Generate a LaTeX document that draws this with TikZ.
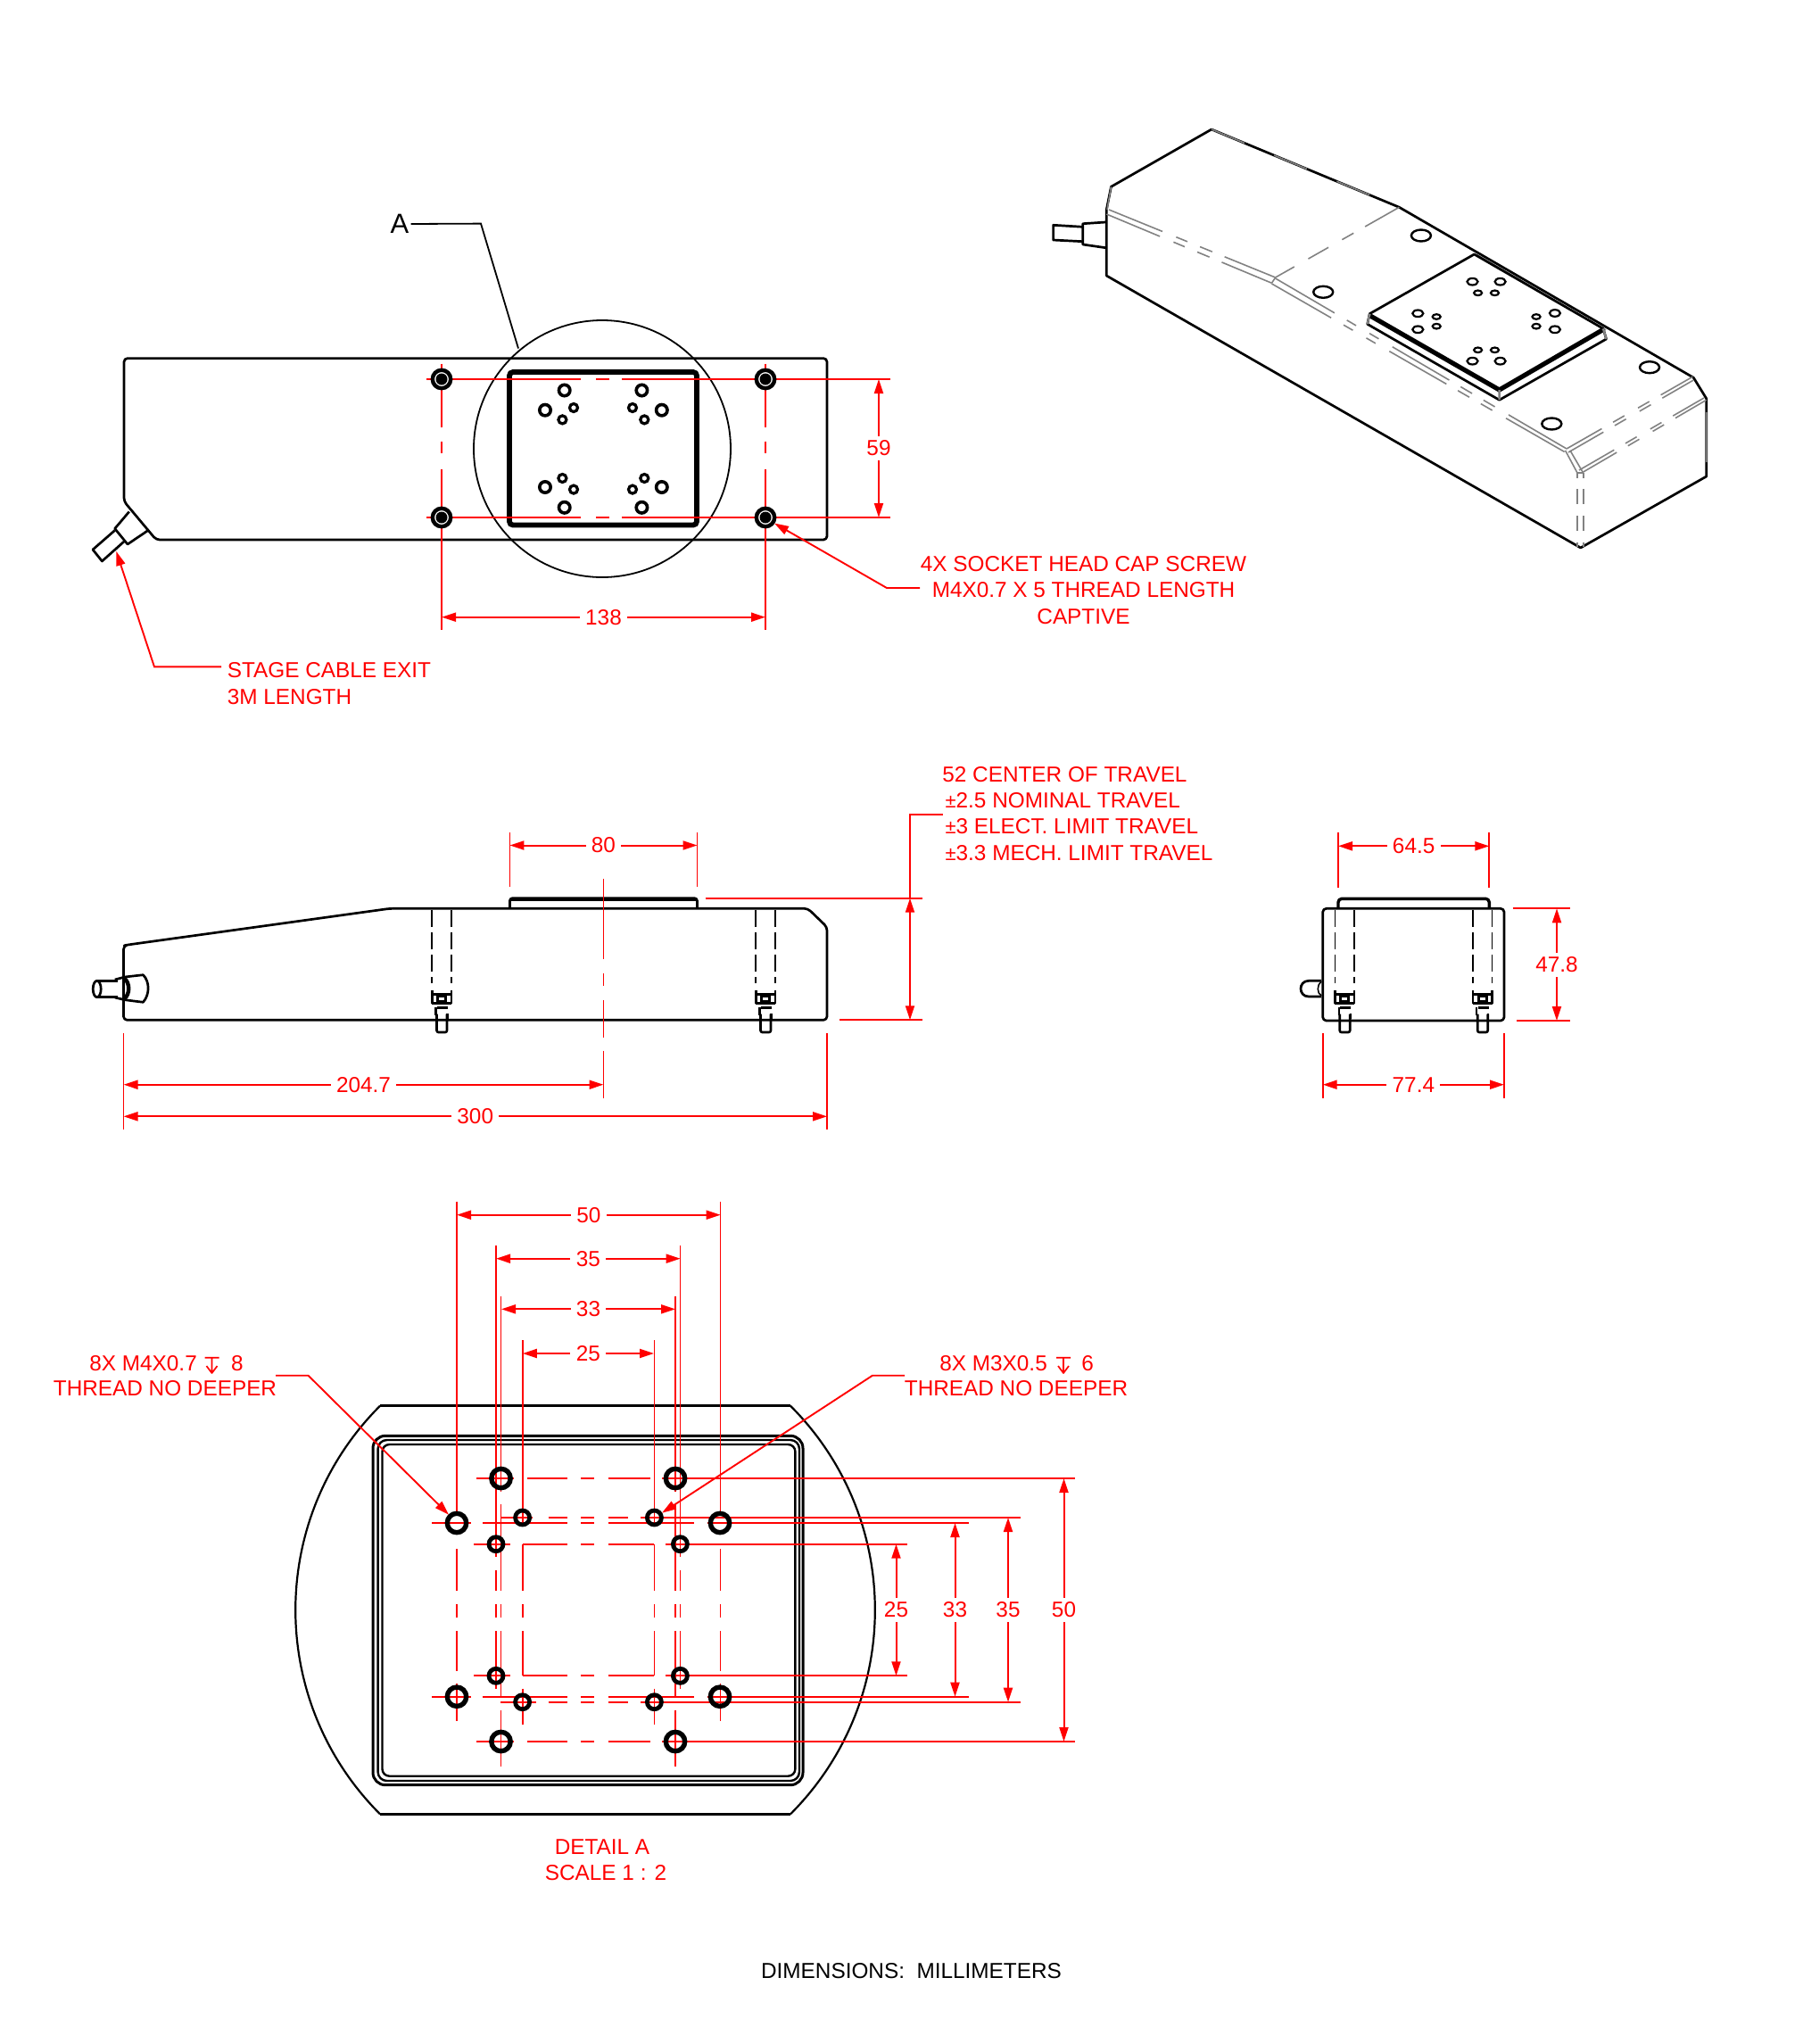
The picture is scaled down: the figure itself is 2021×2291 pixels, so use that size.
\documentclass[tikz,border=0pt]{standalone}
\usepackage{fontspec}
\setmainfont{Liberation Sans}
\usetikzlibrary{arrows.meta}
\definecolor{rd}{RGB}{255,0,0}
\definecolor{gr}{RGB}{130,130,130}
\newcommand\VSegs[2]{\foreach \a/\b in {#2}{\draw[cl] (#1,\a) -- (#1,\b);}}
\newcommand\HSegs[2]{\foreach \a/\b in {#2}{\draw[cl] (\a,#1) -- (\b,#1);}}
\newcommand\DimH[5]{\coordinate (#1a) at (#2,#3);\coordinate (#1b) at (#4,#3);\draw[dimline] (#1a) -- node[dimlabel] (#1t) {#5} (#1b);}
\newcommand\DimV[5]{\coordinate (#1a) at (#2,#3);\coordinate (#1b) at (#2,#4);\draw[dimline] (#1a) -- node[dimlabel] (#1t) {#5} (#1b);}
\newcommand\ScrewA[2]{%
 \foreach \o in {-#2,#2}{\draw[hid] (#1+\o,1020) -- (#1+\o,1102);\draw[black,line width=1.2pt] (#1+\o,1110) -- (#1+\o,1125);}
 \draw[black,line width=1.2pt] (#1-#2,1114.5) -- (#1+#2,1114.5) (#1-#2,1124.5) -- (#1+#2,1124.5);
 \draw[black,line width=1.6pt] (#1-4.5,1116) rectangle (#1+4.5,1123);
 \draw[black,line width=1.2pt] (#1-5,1129.3) -- (#1+7,1129.3) (#1-6.5,1129.3) -- (#1-6.5,1138) (#1+6.5,1136) -- (#1+6.5,1142);
 \draw[black,line width=1.3pt,rounded corners=1pt] (#1-5.5,1136.7) -- (#1-5.5,1157) -- (#1+6,1157) -- (#1+6,1136.7);
}
\tikzset{
 body/.style={black,line width=1.35pt,line join=round},
 hid/.style={black,line width=.9pt,dash pattern=on 9.5pt off 3pt},
 cl/.style={rd,line width=.9pt},
 dimline/.style={rd,line width=1pt,{Triangle[length=8pt,width=5pt]}-{Triangle[length=8pt,width=5pt]}},
 dimlabel/.style={fill=white,text=rd,inner xsep=3.2pt,inner ysep=2.5pt,font=\fontsize{12.17}{14.7}\selectfont},
 lab/.style={text=rd,inner sep=0pt,font=\fontsize{12.17}{14.7}\selectfont},
 leader/.style={rd,line width=.95pt,-{Triangle[length=8pt,width=5pt]}},
 gl/.style={gr,line width=.8pt},
}
\begin{document}
\begin{tikzpicture}[x=.5pt,y=-.5pt]
\useasboundingbox (0,0) rectangle (2021,2291);

%% ===== top view =====
\draw[body,rounded corners=2pt] (139,562) -- (139,401.6) -- (927,401.6) -- (927,605) -- (175,605) -- cycle;
\draw[body] (144.8,573.5) -- (128.7,592.5) -- (143,610) -- (166,594.5);
\draw[body] (128.7,594.5) -- (104,616) -- (114.4,629) -- (139,607);
\draw[black,line width=.9pt] (675,503) circle [radius=144];
\draw[black,line width=2.9pt,rounded corners=2pt] (571,417) rectangle (781,588.5);
\node[font=\fontsize{15.5}{16}\selectfont,inner sep=0pt] (letterA) at (448,251) {A};
\coordinate (Aelbow) at (539,250.6);
\coordinate (Aend) at (581,390.5);
\draw[black,line width=.9pt] (letterA.east)++(2,0) -- (Aelbow) -- (Aend);
% plate holes
\foreach \p in {(632.7,437.5),(611,459.7),(719.4,437.5),(741.8,459.7),(632.7,568.8),(611,546),(719.4,568.8),(741.8,546)}{\draw[black,line width=1.8pt] \p circle [radius=6.2];}
\foreach \p in {(643,457),(630.4,470.4),(709,457),(722.3,470.4),(643,548.6),(630.4,536),(709,548.6),(722.3,536)}{\draw[black,line width=1.6pt] \p circle [radius=4.5];}
% centre lines
\HSegs{425}{478/651,668/683,697/998}
\HSegs{580}{478/651,668/683,697/998}
\VSegs{495}{407.5/478.6,494.5/508,526/706}
\VSegs{858}{407.5/478.6,494.5/508,526/706}
\foreach \p in {(495,425),(858,425),(495,580),(858,580)}{
 \draw[black,fill=white,line width=2.2pt] \p circle [radius=10.2];
 \fill[black] \p circle [radius=6.5];}
\DimH{dA}{495}{691.7}{858}{138}
\DimV{dB}{985}{425}{580}{59}
% leaders
\node[lab,anchor=west] (cabletxt) at (254.5,751.5) {STAGE CABLE EXIT};
\node[lab,anchor=west] (cabletxtb) at (254.5,781) {3M LENGTH};
\coordinate (cabletip) at (130.4,618);
\coordinate (cableelb) at (173,747.4);
\coordinate (cableend) at (248,747.4);
\draw[leader] (cableend) -- (cableelb) -- (cabletip);
\node[lab,align=center] (screwtxt) at (1214.5,661.5) {4X SOCKET HEAD CAP SCREW\\M4X0.7 X 5 THREAD LENGTH\\CAPTIVE};
\coordinate (screwtip) at (868,586.5);
\coordinate (screwelb) at (994,659);
\coordinate (screwend) at (1031,659);
\draw[leader] (screwend) -- (screwelb) -- (screwtip);

%% ===== isometric view =====
\draw[body] (1240.3,235) -- (1245.4,209.3) -- (1358,145) -- (1568.4,232.3) -- (1898.3,423.3) -- (1912.7,446.7) -- (1912.7,534) -- (1771.7,614) -- (1240.3,309) -- cycle;
\draw[body] (1239.3,249) -- (1213.8,250.7) -- (1213.8,274) -- (1239.3,277.7);
\draw[body] (1213.8,254.3) -- (1180.6,252.3) -- (1180.6,269) -- (1213.8,270.7);
\draw[gl,dash pattern=on 20pt off 18pt] (1358,145) -- (1568.4,232.3);
\draw[gl] (1245.4,209.3) -- (1241,235) (1912.7,462) -- (1912.7,518);
% grey ridge lines
\draw[gl,dash pattern=on 32.4pt off 8.3pt on 6.8pt off 7.6pt on 7.4pt off 7.5pt on 32pt] (1243,235) -- (1429.6,311);
\draw[gl,dash pattern=on 32.4pt off 8.3pt on 6.8pt off 7.6pt on 7.4pt off 7.5pt on 32pt] (1240.3,240) -- (1425.5,317.3);
\draw[gl,dash pattern=on 22pt off 7.4pt on 7.4pt off 8.8pt on 13pt off 9pt on 12.4pt] (1568.4,232.3) -- (1429.6,311);
\draw[gl] (1429.6,311) -- (1425.5,317.3);
\draw[gl,dash pattern=on 38.4pt off 8pt on 6pt off 8.7pt on 6pt off 8.9pt on 36.9pt off 7.4pt on 7.4pt off 7.4pt on 7.4pt off 8.9pt on 37.8pt] (1429.6,312) -- (1756,503);
\draw[gl,dash pattern=on 38.4pt off 8pt on 6pt off 8.7pt on 6pt off 8.9pt on 36.9pt off 7.4pt on 7.4pt off 7.4pt on 7.4pt off 8.9pt on 37.8pt] (1425.5,318) -- (1754.6,507);
\draw[gl,dash pattern=on 22.7pt off 7.3pt on 7.3pt off 8.8pt on 7.3pt off 7.4pt on 20.6pt] (1756,503) -- (1898.3,421.7);
\draw[gl,dash pattern=on 22.7pt off 7.3pt on 7.3pt off 8.8pt on 7.3pt off 7.4pt on 20.6pt] (1758,507) -- (1898.3,426);
\draw[gl] (1754.6,505) -- (1768,530) (1760,505) -- (1774,529);
\draw[gl,dash pattern=on 22.7pt off 7.3pt on 7.3pt off 8.8pt on 7.3pt off 7.4pt on 20.6pt] (1773,530) -- (1912.7,448.3);
\draw[gl,dash pattern=on 22.7pt off 7.3pt on 7.3pt off 8.8pt on 7.3pt off 7.4pt on 20.6pt] (1770,527) -- (1910,446);
\draw[gl] (1767.7,530) -- (1775,530);
\draw[gl,dash pattern=on 3pt off 6pt on 8.5pt off 6.5pt on 8.5pt off 6.5pt on 3pt] (1767.7,530) -- (1767.7,613);
\draw[gl,dash pattern=on 3pt off 6pt on 8.5pt off 6.5pt on 8.5pt off 6.5pt on 3pt] (1775,530) -- (1775,613);
% plate
\draw[gl] (1655,285) -- (1800,370);
\draw[body] (1652.5,285) -- (1535.2,351.7) -- (1532.7,363.3) -- (1680.6,448.3) -- (1800.5,380) -- (1797,368.3) -- cycle;
\draw[black,line width=2.6pt] (1536,354) -- (1680.6,437) -- (1796,370);
\draw[gl,line width=1.2pt] (1680.6,437) -- (1680.6,448) (1797,368.3) -- (1800.5,380) (1535.2,351.7) -- (1532.7,363.3);
\foreach \p in {(1592.9,264),(1483.2,327.3),(1849,411.7),(1739.3,475)}{\draw[black,line width=1.2pt] \p ellipse [x radius=11,y radius=6.5];}
\foreach \p in {(1650.5,315.7),(1681.6,315.7),(1589.3,351.3),(1589.3,369.3),(1742.9,351),(1742.9,369.3),(1650.5,404.7),(1681.6,404.7)}{\draw[black,line width=1.1pt] \p ellipse [x radius=6,y radius=3.8];}
\foreach \p in {(1656.6,328.3),(1675.5,328.3),(1610.2,355),(1610.2,365.7),(1722,355),(1722,365.7),(1656.6,392.3),(1675.5,392.3)}{\draw[black,line width=1.1pt] \p ellipse [x radius=4.5,y radius=2.8];}

%% ===== side view =====
\draw[body,rounded corners=2pt] (138.5,1143.3) -- (138.5,1060) -- (143,1059) -- (437,1018.3) -- (905.5,1018.3) -- (927,1039) -- (927,1143.3) -- cycle;
\draw[body,rounded corners=1.5pt] (571.4,1018) -- (571.4,1006.7) -- (781.5,1006.7) -- (781.5,1018);
\draw[black,line width=2pt] (572,1008) -- (781,1008);
\ScrewA{495}{10.7}
\ScrewA{858}{10.7}
\draw[body] (108.7,1099.3) -- (132,1099.3) (108.7,1117.7) -- (132,1117.7);
\draw[body] (108.7,1108.5) ellipse [x radius=4.5,y radius=9.2];
\draw[body] (128.8,1098) -- (140,1095) -- (160.4,1092.7) .. controls (168,1100) and (168,1115) .. (160.4,1123.3) -- (140,1120.7) -- (128.8,1118);
\draw[black,line width=2.2pt] (139,1096) .. controls (146,1102) and (146,1114) .. (139,1120);
\VSegs{676.5}{985/1075,1090.7/1105,1121/1163,1177.7/1230.7}
\VSegs{571.4}{933/994}
\VSegs{781.5}{933/994}
\VSegs{138.5}{1158/1266}
\VSegs{927}{1158/1266}
\HSegs{1006.7}{790.7/1034}
\HSegs{1143.3}{941/1034}
\DimH{dC}{571.4}{947.5}{781.5}{80}
\DimH{dD}{138.5}{1215.7}{676.5}{204.7}
\DimH{dE}{138.5}{1251.3}{927}{300}
\node[lab,align=left,anchor=west] (traveltxt) at (1056,911.8) {52 CENTER OF TRAVEL\\\hspace{1.6pt}{\fontsize{11}{11}\selectfont ±}2.5 NOMINAL TRAVEL\\\hspace{1.6pt}{\fontsize{11}{11}\selectfont ±}3 ELECT. LIMIT TRAVEL\\\hspace{1.6pt}{\fontsize{11}{11}\selectfont ±}3.3 MECH. LIMIT TRAVEL};
\coordinate (travelend) at (1056.7,912.7);
\coordinate (travelelb) at (1020,912.7);
\coordinate (travelbot) at (1020,1143.3);
\coordinate (traveltop) at (1020,1006.7);
\draw[cl,line width=.95pt] (travelend) -- (travelelb) -- (traveltop);
\draw[dimline] (traveltop) -- (travelbot);

%% ===== end view =====
\draw[body,rounded corners=2pt] (1482.7,1144) -- (1482.7,1018.3) -- (1686,1018.3) -- (1686,1144) -- cycle;
\draw[body,line width=1.7pt,rounded corners=2pt] (1500,1018) -- (1500,1007.3) -- (1669.3,1007.3) -- (1669.3,1018);
\ScrewA{1507.2}{10.8}
\ScrewA{1661.7}{10.8}
\draw[body] (1481,1099.3) -- (1467,1099.3) .. controls (1455,1099.3) and (1455,1117) .. (1467,1117) -- (1481,1117);
\draw[body,line width=.8pt] (1481,1100) .. controls (1476,1104) and (1476,1113) .. (1481,1116);
\VSegs{1500}{933/995}
\VSegs{1669.3}{933/995}
\VSegs{1482.7}{1158/1230.7}
\VSegs{1686}{1158/1230.7}
\HSegs{1018.3}{1695.7/1760}
\HSegs{1144}{1700/1760}
\DimH{dF}{1500}{948.3}{1669.3}{64.5}
\DimH{dG}{1482.7}{1215.7}{1686}{77.4}
\DimV{dH}{1745}{1018.3}{1144}{47.8}

%% ===== detail A =====
\draw[black,line width=1.6pt] (426,1575.7) -- (886,1575.7);
\draw[black,line width=1.6pt] (426,2033.3) -- (886,2033.3);
\draw[black,line width=1.1pt] (426,1575.7) .. controls (299.6,1702.1) and (299.6,1906.9) .. (426,2033.3);
\draw[black,line width=1.1pt] (886,1575.7) .. controls (1012.4,1702.1) and (1012.4,1906.9) .. (886,2033.3);
\draw[black,line width=1.5pt,rounded corners=7pt] (418,1609.3) rectangle (900,2000.7);
\draw[black,line width=1.2pt,rounded corners=5pt] (423.6,1614) rectangle (896,1996);
\draw[black,line width=1.2pt,rounded corners=4pt] (428.5,1619) rectangle (891.4,1990.7);
% vertical lines (extensions + centre)
\VSegs{512}{1346.7/1695,1736/1782.7,1798/1813,1828/1872.7,1886.7/1929.3}
\VSegs{807.5}{1346.7/1695,1736/1782.7,1798/1813,1828/1872.7,1886.7/1929.3}
\VSegs{561.5}{1452.7/1672,1686/1782.7,1798/1813,1828/1903,1917/1980}
\VSegs{757}{1452.7/1672,1686/1782.7,1798/1813,1828/1903,1917/1980}
\VSegs{556}{1396/1745,1760/1782.7,1798/1813,1828/1893}
\VSegs{762.4}{1396/1745,1760/1782.7,1798/1813,1828/1893}
\VSegs{585.6}{1502.3/1707,1730.7/1782.7,1798/1813,1828/1878.3,1892.7/1933}
\VSegs{733.4}{1502.3/1707,1730.7/1782.7,1798/1813,1828/1878.3,1892.7/1933}
% horizontal lines
\HSegs{1657}{534/576,591/636,651/666,681.6/728.5,742/1205}
\HSegs{1952}{534/576,591/636,651/666,681.6/728.5,742/1205}
\HSegs{1701}{561/597,614.6/636,651/666,681.6/704,718/1144}
\HSegs{1907.7}{561/601,614.6/636,651/666,681.6/704,718/1144}
\HSegs{1707}{484/527.6,541/636,651/666,681.6/777.6,793/1086}
\HSegs{1901.7}{484/527.6,541/636,651/666,681.6/777.6,793/1086}
\HSegs{1730.7}{531/572,585.6/636,651/666,681.6/733.4,746/1017}
\HSegs{1878.3}{531/572,585.6/636,651/666,681.6/733.4,746/1017}
\foreach \p in {(561.5,1657),(757,1657),(512,1707),(807,1707),(512,1901.7),(807,1901.7),(561.5,1952),(757,1952)}{\draw[black,line width=2.7pt] \p circle [radius=10.7];}
\foreach \p in {(585.6,1701),(733.4,1701),(556,1730.7),(762.4,1730.7),(556,1878.3),(762.4,1878.3),(585.6,1907.7),(733.4,1907.7)}{\draw[black,line width=2.4pt] \p circle [radius=8];}
\DimH{dI}{512}{1361.7}{807.7}{50}
\DimH{dJ}{556}{1410.7}{762.7}{35}
\DimH{dK}{562}{1467.3}{757}{33}
\DimH{dL}{585.8}{1517}{733}{25}
\DimV{dM}{1004.5}{1730.7}{1878.3}{25}
\DimV{dN}{1070.5}{1707}{1901.7}{33}
\DimV{dO}{1130}{1701}{1907.7}{35}
\DimV{dP}{1192.5}{1657}{1952}{50}
% notes
\node[lab,anchor=west] (mfourA) at (100,1528.5) {8X M4X0.7};
\node[lab,anchor=west] (mfourB) at (258.6,1528.5) {8};
\node[lab] (mfourC) at (185,1556) {THREAD NO DEEPER};
\node[lab,anchor=west] (mthreeA) at (1053,1528.5) {8X M3X0.5};
\node[lab,anchor=west] (mthreeB) at (1212,1528.5) {6};
\node[lab] (mthreeC) at (1139,1556) {THREAD NO DEEPER};
\foreach \x in {237.5,1192}{
 \draw[rd,line width=.85pt,line join=round] (\x-8,1521.7) -- (\x+8,1521.7) (\x,1521.7) -- (\x,1539) (\x-6,1531) -- (\x,1539) -- (\x+6,1531);
}
\coordinate (mfourend) at (309,1541.7);
\coordinate (mfourelb) at (345.5,1541.7);
\coordinate (mfourtip) at (503,1697.7);
\draw[leader] (mfourend) -- (mfourelb) -- (mfourtip);
\coordinate (mthreeend) at (1014,1541.7);
\coordinate (mthreeelb) at (978,1541.7);
\coordinate (mthreetip) at (742,1695.7);
\draw[leader] (mthreeend) -- (mthreeelb) -- (mthreetip);
\node[lab] (detailA) at (675,2070) {DETAIL A};
\node[lab] (detailB) at (679,2099) {SCALE 1 : 2};
\node[inner sep=0pt,font=\fontsize{12.17}{14.7}\selectfont] (units) at (1021.5,2209.5) {DIMENSIONS:\ \ MILLIMETERS};
\end{tikzpicture}
\end{document}
